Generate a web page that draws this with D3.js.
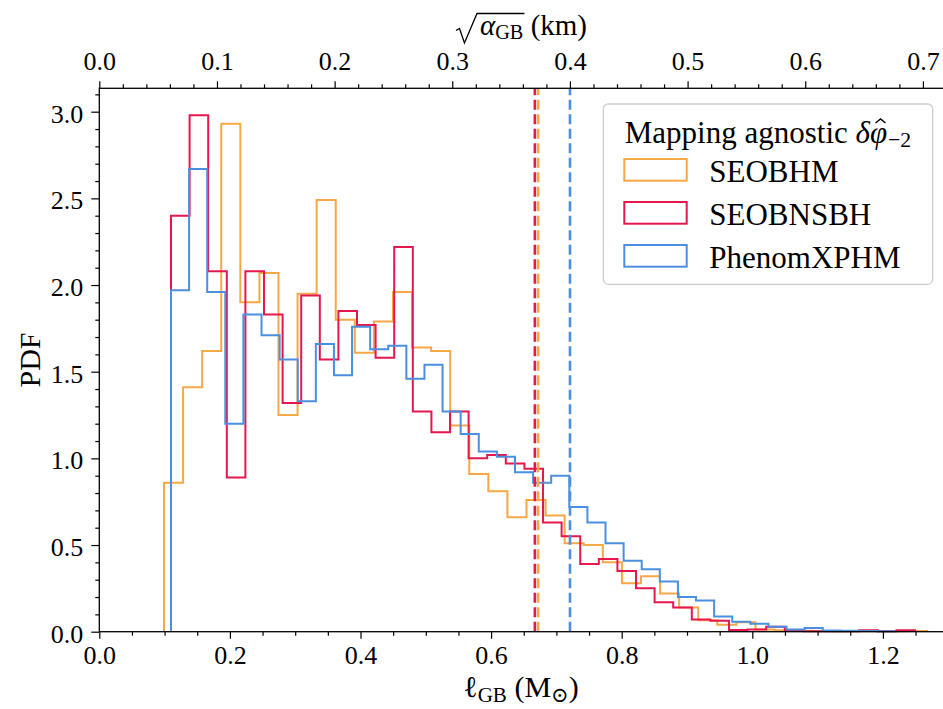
<!DOCTYPE html>
<html>
<head>
<meta charset="utf-8">
<script src="https://cdn.jsdelivr.net/npm/d3@7"></script>
<style>
  html, body { margin: 0; padding: 0; background: #fff; }
  svg { display: block; }
</style>
</head>
<body>
<svg id="chart" width="943" height="709"></svg>
<script>
// ---- data -------------------------------------------------------------
const seriesNames = ["SEOBHM", "SEOBNSBH", "PhenomXPHM"];
const seriesColors = ["#f6a846", "#e6174e", "#4a8fe0"];

// histogram ranges (ell_GB in solar masses), 40 equal bins each
const seobhmRange = [0.0991, 1.2678];
const seobnsbhRange = [0.1098, 1.2492];
const phenomRange = [0.1098, 1.2188];

// probability density per bin
const seobhmDensity = [0.86, 1.41, 1.62, 2.93, 1.90, 2.07, 1.25, 1.95, 2.49, 1.80,
  1.61, 1.79, 1.96, 1.64, 1.62, 1.19, 0.91, 0.81, 0.66, 0.76,
  0.67, 0.51, 0.50, 0.40, 0.28, 0.32, 0.22, 0.14, 0.066, 0.04,
  0.055, 0.012, 0.008, 0.006, 0.004, 0.003, 0.002, 0.003, 0.002, 0.004];
const seobnsbhDensity = [2.40, 2.98, 2.08, 0.89, 2.08, 1.83, 1.32, 1.94, 1.57, 1.85,
  1.77, 1.58, 2.22, 1.27, 1.15, 1.27, 1.00, 1.02, 0.97, 0.94,
  0.63, 0.55, 0.39, 0.42, 0.35, 0.25, 0.17, 0.14, 0.07, 0.063,
  0.01, 0.013, 0.029, 0.007, 0.003, 0.003, 0.003, 0.008, 0.002, 0.008];
const phenomDensity = [1.97, 2.67, 1.96, 1.20, 1.83, 1.71, 1.57, 1.33, 1.66, 1.48,
  1.76, 1.63, 1.65, 1.46, 1.54, 1.27, 1.14, 1.04, 1.01, 0.92,
  0.86, 0.90, 0.72, 0.63, 0.51, 0.41, 0.36, 0.29, 0.20, 0.18,
  0.088, 0.058, 0.046, 0.029, 0.013, 0.021, 0.007, 0.005, 0.004, 0.003];

// 90% upper bounds on ell_GB (solar masses)
const upperBounds = [0.672, 0.667, 0.7208];

// axis ticks
const xTickValues = [0.0, 0.2, 0.4, 0.6, 0.8, 1.0, 1.2];
const xMinorValues = [0.05, 0.1, 0.15, 0.25, 0.3, 0.35, 0.45, 0.5, 0.55, 0.65, 0.7, 0.75, 0.85, 0.9, 0.95, 1.05, 1.1, 1.15, 1.25];
const yTickValues = [0.0, 0.5, 1.0, 1.5, 2.0, 2.5, 3.0];
const yMinorValues = [0.1, 0.2, 0.3, 0.4, 0.6, 0.7, 0.8, 0.9, 1.1, 1.2, 1.3, 1.4, 1.6, 1.7, 1.8, 1.9, 2.1, 2.2, 2.3, 2.4, 2.6, 2.7, 2.8, 2.9, 3.1];
const topTickValues = [0.0, 0.1, 0.2, 0.3, 0.4, 0.5, 0.6, 0.7];
const topMinorValues = [0.02, 0.04, 0.06, 0.08, 0.12, 0.14, 0.16, 0.18, 0.22, 0.24, 0.26, 0.28,
  0.32, 0.34, 0.36, 0.38, 0.42, 0.44, 0.46, 0.48, 0.52, 0.54, 0.56, 0.58, 0.62, 0.64, 0.66, 0.68];

// sqrt(alpha_GB) in km per solar mass of ell_GB
const kmPerMsun = 0.555;

// ---- layout -----------------------------------------------------------
const FONT = "'Liberation Serif', 'DejaVu Serif', serif";
const plot = { left: 99.3, right: 948.2, top: 88.3, bottom: 631.7 };
const xMax = 1.3, yMax = 3.135;

const svg = d3.select("#chart");
svg.append("rect").attr("width", 943).attr("height", 709).attr("fill", "#fff");

const x = d3.scaleLinear().domain([0, xMax]).range([plot.left, plot.right]);
const y = d3.scaleLinear().domain([0, yMax]).range([plot.bottom, plot.top]);
const xTop = d3.scaleLinear().domain([0, xMax * kmPerMsun]).range([plot.left, plot.right]);

// ---- histograms (step outlines) --------------------------------------
const series = [
  { name: seriesNames[0], color: seriesColors[0], range: seobhmRange, dens: seobhmDensity },
  { name: seriesNames[1], color: seriesColors[1], range: seobnsbhRange, dens: seobnsbhDensity },
  { name: seriesNames[2], color: seriesColors[2], range: phenomRange, dens: phenomDensity }
];

const stepLine = d3.line().x(d => x(d[0])).y(d => y(d[1]));
const histG = svg.append("g");
series.forEach(s => {
  const n = s.dens.length;
  const edges = d3.range(n + 1).map(i => s.range[0] + i * (s.range[1] - s.range[0]) / n);
  const pts = [[edges[0], 0]];
  s.dens.forEach((v, i) => { pts.push([edges[i], v]); pts.push([edges[i + 1], v]); });
  pts.push([edges[n], 0]);
  histG.append("path")
    .attr("d", stepLine(pts))
    .attr("fill", "none")
    .attr("stroke", s.color)
    .attr("stroke-width", 2)
    .attr("stroke-linejoin", "miter");
});

// ---- upper-bound lines ------------------------------------------------
upperBounds.forEach((b, i) => {
  svg.append("line")
    .attr("x1", x(b)).attr("x2", x(b))
    .attr("y1", y(0)).attr("y2", y(yMax))
    .attr("stroke", seriesColors[i])
    .attr("stroke-width", 2.6)
    .attr("stroke-dasharray", "10,4.5");
});

// ---- axes -------------------------------------------------------------
function styleAxis(g) {
  g.select(".domain").remove();
  g.selectAll(".tick line").attr("stroke", "#000").attr("stroke-width", 1.2);
  g.selectAll(".tick text").attr("font-family", FONT).attr("font-size", 26).attr("fill", "#000");
}
const fmt = d3.format(".1f");

svg.append("g").attr("transform", `translate(0,${plot.bottom})`)
  .call(d3.axisBottom(x).tickValues(xMinorValues).tickSize(4).tickFormat("")).call(styleAxis);
svg.append("g").attr("transform", `translate(0,${plot.bottom})`)
  .call(d3.axisBottom(x).tickValues(xTickValues).tickSize(7).tickPadding(7).tickFormat(fmt)).call(styleAxis);

svg.append("g").attr("transform", `translate(${plot.left},0)`)
  .call(d3.axisLeft(y).tickValues(yMinorValues).tickSize(4).tickFormat("")).call(styleAxis);
svg.append("g").attr("transform", `translate(${plot.left},0)`)
  .call(d3.axisLeft(y).tickValues(yTickValues).tickSize(8).tickPadding(8).tickFormat(fmt)).call(styleAxis)
  .selectAll(".tick text").attr("dy", "0.4em");

svg.append("g").attr("transform", `translate(0,${plot.top})`)
  .call(d3.axisTop(xTop).tickValues(topMinorValues).tickSize(4).tickFormat("")).call(styleAxis);
svg.append("g").attr("transform", `translate(0,${plot.top})`)
  .call(d3.axisTop(xTop).tickValues(topTickValues).tickSize(7).tickPadding(11).tickFormat(fmt)).call(styleAxis);

// spines
svg.append("rect")
  .attr("x", plot.left).attr("y", plot.top)
  .attr("width", plot.right - plot.left).attr("height", plot.bottom - plot.top)
  .attr("fill", "none").attr("stroke", "#000").attr("stroke-width", 1.3);

// ---- rich text helper (italic / subscript runs) -----------------------
function richText(parent, parts, o) {
  const t = parent.append("text")
    .attr("x", o.x).attr("y", o.y)
    .attr("font-family", FONT).attr("font-size", o.size)
    .attr("text-anchor", o.anchor || "start").attr("fill", "#000");
  let shift = 0;
  parts.forEach(p => {
    const sp = t.append("tspan").text(p.t);
    const target = p.sub ? o.size * (p.subShift || 0.25) : 0;
    const dy = target - shift;
    if (dy) sp.attr("dy", dy);
    shift = target;
    if (p.sub) sp.attr("font-size", o.size * 0.7);
    if (p.italic) sp.attr("font-style", "italic");
    if (p.dx) sp.attr("dx", p.dx);
  });
  return t;
}

// top axis label: sqrt(alpha_GB) (km)
(function () {
  const g = svg.append("g");
  const t = richText(g, [
    { t: "α", italic: true },
    { t: "GB", sub: true, subShift: 0.15 },
    { t: "  (km)" }
  ], { x: 0, y: 35, size: 29 });
  const full = t.node().getComputedTextLength();
  const sub = t.node().getSubStringLength(0, 3);
  const rad = 22;
  const startX = 520.5 - (full + rad) / 2;
  t.attr("x", startX + rad + 2);
  const x0 = startX;
  g.append("path")
    .attr("d", `M${x0},30.5 L${x0 + 3.5},28.5 L${x0 + 8.5},43 L${x0 + 21},13.5 L${x0 + rad + 3 + sub},13.5`)
    .attr("fill", "none").attr("stroke", "#000").attr("stroke-width", 1.3)
    .attr("stroke-linejoin", "miter");
})();

// bottom axis label: ell_GB (M_sun)
richText(svg, [
  { t: "ℓ" },
  { t: "GB", sub: true, subShift: 0.15 },
  { t: " (M" },
  { t: "⊙", sub: true, subShift: 0.15 },
  { t: ")" }
], { x: 521, y: 697, size: 30, anchor: "middle" });

// y label
svg.append("text")
  .attr("transform", "translate(40,360) rotate(-90)")
  .attr("text-anchor", "middle")
  .attr("font-family", FONT).attr("font-size", 30).attr("fill", "#000")
  .text("PDF");

// ---- legend -----------------------------------------------------------
const legend = { x: 603.3, y: 104, w: 329.4, h: 180.3 };
const lg = svg.append("g");
lg.append("rect")
  .attr("x", legend.x).attr("y", legend.y).attr("width", legend.w).attr("height", legend.h)
  .attr("rx", 5).attr("ry", 5)
  .attr("fill", "rgba(255,255,255,0.8)").attr("stroke", "#cccccc").attr("stroke-width", 1.3);

const LEG_SIZE = 31;
const title = richText(lg, [
  { t: "Mapping agnostic " },
  { t: "δφ", italic: true },
  { t: "−2", sub: true, subShift: 0.14, dx: 1 }
], { x: legend.x + legend.w / 2, y: 143, size: LEG_SIZE, anchor: "middle" });

// circumflex over phi
(function () {
  const node = title.node();
  const idx = "Mapping agnostic δ".length;
  const ext = node.getExtentOfChar(idx);
  const cx = ext.x + ext.width / 2 + 2;
  const top = 143 - 24;
  lg.append("path")
    .attr("d", `M${cx - 5},${top + 4} L${cx},${top} L${cx + 5},${top + 4}`)
    .attr("fill", "none").attr("stroke", "#000").attr("stroke-width", 1.4)
    .attr("stroke-linejoin", "miter");
})();

series.forEach((s, i) => {
  const rowY = 159 + i * 43;
  lg.append("rect")
    .attr("x", 624.3).attr("y", rowY).attr("width", 62.4).attr("height", 21.7)
    .attr("fill", "none").attr("stroke", s.color).attr("stroke-width", 2);
  lg.append("text")
    .attr("x", 709.3).attr("y", rowY + 22.5)
    .attr("font-family", FONT).attr("font-size", LEG_SIZE).attr("fill", "#000")
    .text(s.name);
});
</script>
</body>
</html>
